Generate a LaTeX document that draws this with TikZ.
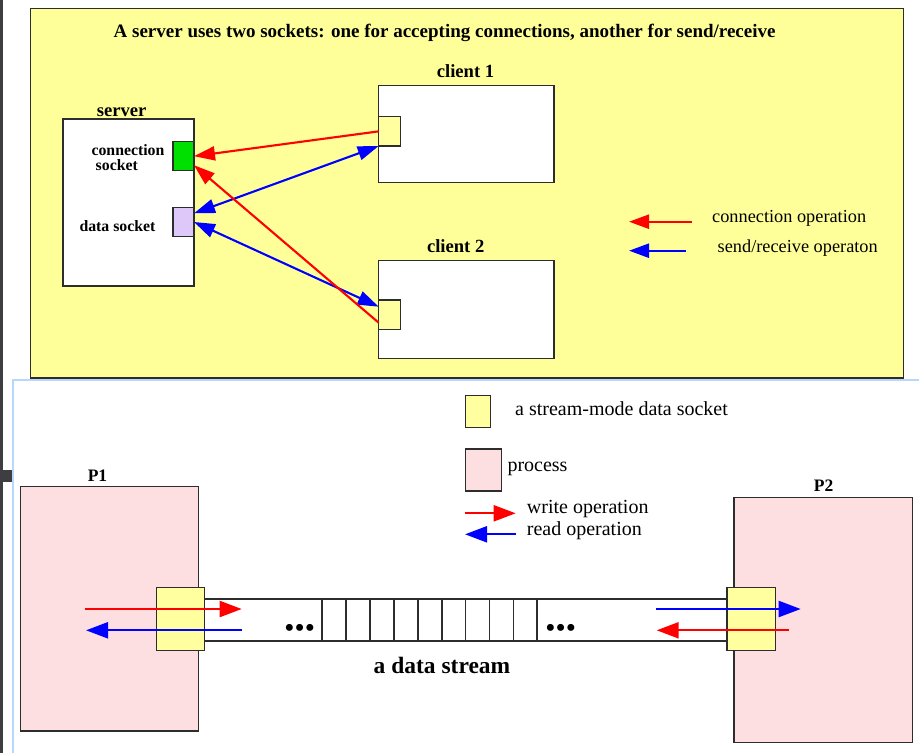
\documentclass[tikz,border=0pt]{standalone}
\usepackage{fontspec}
\setmainfont{Liberation Serif}
\usetikzlibrary{arrows.meta}
\definecolor{panelyellow}{RGB}{255,255,153}
\definecolor{sockyellow}{RGB}{255,255,160}
\definecolor{procpink}{RGB}{253,223,225}
\definecolor{sockgreen}{RGB}{0,224,0}
\definecolor{socklav}{RGB}{222,200,249}
\definecolor{boxgray}{RGB}{45,45,45}
\definecolor{winblue}{RGB}{185,215,250}
\definecolor{windark}{RGB}{60,62,66}
\definecolor{opred}{RGB}{255,0,0}
\definecolor{opblue}{RGB}{0,0,255}
\begin{document}
\begin{tikzpicture}[x=1pt,y=-1pt,
  box/.style={draw=boxgray, line width=1.3pt, fill=white, inner sep=0pt, outer sep=0pt, anchor=north west},
  sock/.style={draw=boxgray, line width=1.3pt, inner sep=0pt, outer sep=0pt, anchor=north west},
  lbl/.style={inner sep=0pt, anchor=base},
  lblw/.style={inner sep=0pt, anchor=base west},
  bigbold/.style={font=\bfseries\fontsize{18.6}{22}\selectfont},
  smallbold/.style={font=\bfseries\fontsize{15.8}{18}\selectfont},
  toplegend/.style={font=\fontsize{18.3}{21}\selectfont},
  botlegend/.style={font=\fontsize{20}{24}\selectfont},
  redop/.style={draw=opred, line width=2.1pt, -{Triangle[length=21pt,width=14pt]}},
  blueop/.style={draw=opblue, line width=2.1pt, {Triangle[length=21pt,width=14pt]}-{Triangle[length=21pt,width=14pt]}},
  legred/.style={draw=opred, line width=2.4pt, -{Triangle[length=20pt,width=14pt]}},
  legblue/.style={draw=opblue, line width=2.4pt, -{Triangle[length=20pt,width=14pt]}},
  wred/.style={draw=opred, line width=2.2pt, -{Triangle[length=22pt,width=16pt]}},
  wblue/.style={draw=opblue, line width=2.2pt, -{Triangle[length=22pt,width=16pt]}},
  band/.style={draw=boxgray, line width=1.5pt}
]
\useasboundingbox (0,0) rectangle (919,753);
\fill[white] (0,0) rectangle (919,753);

% window frame pieces
\fill[windark] (0,0) rectangle (2.5,753);
\fill[windark] (0,470) rectangle (12,482);
\draw[winblue, line width=2pt] (13,753) -- (13,379.5) -- (919,379.5);

% top panel
\draw[draw=boxgray, line width=1.3pt, fill=panelyellow] (30.7,8.3) rectangle (903.5,378);

\node[lbl, font=\bfseries\fontsize{19}{22}\selectfont] (title) at (444.6,37.5)
  {A server uses two sockets: one for accepting connections, another for send/receive};

% server
\node[box, minimum width=131pt, minimum height=167pt] (srv) at (63,119) {};
\node[lbl, bigbold] (srvlbl) at (121.6,116) {server};
\node[sock, fill=sockgreen, minimum width=21pt, minimum height=29pt] (cs) at (173,141.7) {};
\node[sock, fill=socklav, minimum width=21pt, minimum height=29.4pt] (ds) at (173,207.3) {};
\node[lbl, smallbold] (cslbl1) at (128,155) {connection};
\node[lbl, smallbold] (cslbl2) at (116.8,170) {socket};
\node[lbl, smallbold] (dslbl) at (117.5,231.7) {data socket};

% clients
\node[box, minimum width=175.3pt, minimum height=97.4pt] (c1) at (378.7,85.3) {};
\node[lbl, bigbold] (c1lbl) at (465.5,77.3) {client 1};
\node[sock, fill=sockyellow, minimum width=22pt, minimum height=29.3pt] (c1s) at (378.7,116.7) {};
\node[box, minimum width=175.3pt, minimum height=97.6pt] (c2) at (378.7,260.7) {};
\node[lbl, bigbold] (c2lbl) at (455.7,252.5) {client 2};
\node[sock, fill=sockyellow, minimum width=22pt, minimum height=29.3pt] (c2s) at (378.7,300) {};

% connectors
\draw[redop] (c1s.west) -- (cs.east);
\draw[blueop] ([yshift=-6pt]ds.north east) -- (c1s.south west);
\draw[blueop] (ds.east) -- ([yshift=-6.7pt]c2s.north west);
\draw[redop] ([yshift=6.6pt]c2s.south west) -- ([yshift=5.5pt]cs.south east);

% top legend
\coordinate (lr1) at (692,221.7);
\coordinate (lr2) at (629,221.7);
\coordinate (lb1) at (686,250.7);
\coordinate (lb2) at (629,250.7);
\draw[legred] (lr1) -- (lr2);
\draw[legblue] (lb1) -- (lb2);
\node[lblw, toplegend] (leg1) at (712,222.3) {connection operation};
\node[lblw, toplegend] (leg2) at (717.5,252.7) {send/receive operaton};

% bottom legend
\node[sock, fill=sockyellow, minimum width=24.6pt, minimum height=31.6pt] (legsock) at (465.7,395.7) {};
\node[lblw, botlegend] (legsocklbl) at (515,415.7) {a stream-mode data socket};
\node[sock, fill=procpink, minimum width=36pt, minimum height=42pt] (legproc) at (465.7,449) {};
\node[lblw, botlegend] (legproclbl) at (507.3,471) {process};
\coordinate (lw1) at (465,513.3);
\coordinate (lw2) at (515.7,513.3);
\coordinate (lrd1) at (516,534.3);
\coordinate (lrd2) at (465,534.3);
\draw[wred] (lw1) -- (lw2);
\draw[wblue] (lrd1) -- (lrd2);
\node[lblw, botlegend] (legw) at (526.7,513.3) {write operation};
\node[lblw, botlegend] (legr) at (526.7,535.7) {read operation};

% processes
\node[sock, fill=procpink, minimum width=178pt, minimum height=244.7pt] (p1) at (20.7,486.3) {};
\node[lbl, font=\bfseries\fontsize{17.5}{20}\selectfont] (p1lbl) at (97.5,481) {P1};
\node[sock, fill=procpink, minimum width=178.3pt, minimum height=244.6pt] (p2) at (734,497.7) {};
\node[lbl, font=\bfseries\fontsize{17.5}{20}\selectfont] (p2lbl) at (823.7,491.7) {P2};

% data stream band
\draw[band] (204.7,599) -- (727,599);
\draw[band] (204.7,641) -- (727,641);
\foreach \xx in {322,346,370,394,418,442,465.5,489.3,513.3,537}{
  \draw[band] (\xx,599) -- (\xx,641);
}
\node[inner sep=0pt, font=\fontsize{29}{30}\selectfont] (dotsl) at (299.7,630.5) {•••};
\node[inner sep=0pt, font=\fontsize{29}{30}\selectfont] (dotsr) at (560.7,630.5) {•••};
\node[lbl, font=\bfseries\fontsize{23.5}{28}\selectfont] (stream) at (442,673.3) {a data stream};

% stream sockets
\node[sock, fill=sockyellow, minimum width=48pt, minimum height=63.4pt] (p1s) at (156.7,587.3) {};
\node[sock, fill=sockyellow, minimum width=48.3pt, minimum height=63.4pt] (p2s) at (727,587.3) {};

% stream arrows
\coordinate (w1a) at (85.3,609);
\coordinate (w1b) at (241.7,609);
\coordinate (r1a) at (242,630.3);
\coordinate (r1b) at (86,630.3);
\coordinate (r2a) at (656,609);
\coordinate (r2b) at (800.7,609);
\coordinate (w2a) at (788.7,630.3);
\coordinate (w2b) at (656.7,630.3);
\draw[wred] (w1a) -- (w1b);
\draw[wblue] (r1a) -- (r1b);
\draw[wblue] (r2a) -- (r2b);
\draw[wred] (w2a) -- (w2b);
\end{tikzpicture}
\end{document}
